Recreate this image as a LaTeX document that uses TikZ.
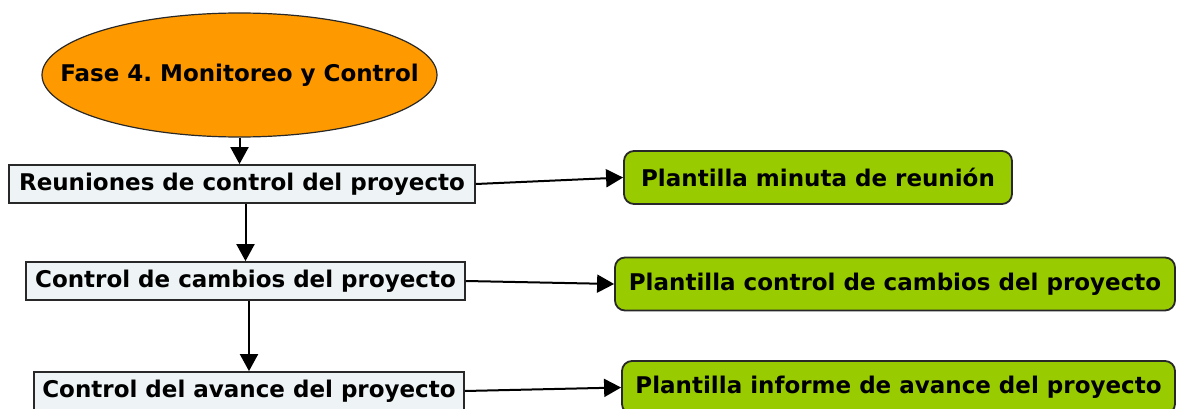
\documentclass[tikz,border=0pt]{standalone}
\usepackage{fontspec}
\setmainfont{DejaVu Sans}
\usetikzlibrary{shapes.geometric,arrows.meta}
\definecolor{phaseorange}{RGB}{255,153,0}
\definecolor{tplgreen}{RGB}{153,204,0}
\definecolor{taskfill}{RGB}{238,244,246}
\definecolor{edgegray}{RGB}{40,40,40}
\frenchspacing
\tikzset{
  labelfont/.style={font=\fontsize{23}{26}\selectfont\bfseries},
  phase/.style={ellipse, draw=edgegray, line width=1.2pt, fill=phaseorange,
    minimum width=395pt, minimum height=124pt, inner xsep=-50pt, inner ysep=0pt, labelfont},
  task/.style={rectangle, draw=edgegray, line width=1.8pt, fill=taskfill,
    minimum height=38pt, inner sep=0pt, labelfont},
  template/.style={rectangle, rounded corners=10pt, draw=edgegray, line width=1.8pt,
    fill=tplgreen, minimum height=53pt, inner sep=0pt, labelfont},
  link/.style={line width=2pt, black, -{Triangle[length=17pt, width=18pt]}},
}
\begin{document}
\begin{tikzpicture}[x=1pt, y=-1pt]
  \useasboundingbox (0,0) rectangle (1178,409);
  \clip (0,0) rectangle (1178,409);

  \node[phase] (fase) at (239.5,75) {Fase 4. Monitoreo y Control};

  \node[task, minimum width=466pt] (reun) at (242,184) {Reuniones de control del proyecto};
  \node[task, minimum width=439pt] (camb) at (245.5,281) {Control de cambios del proyecto};
  \node[task, minimum width=430pt] (avan) at (249,391) {Control del avance del proyecto};

  \node[template, minimum width=388pt] (minuta) at (818,177.5) {Plantilla minuta de reunión};
  \node[template, minimum width=560pt] (pcamb) at (895,284) {Plantilla control de cambios del proyecto};
  \node[template, minimum width=553pt] (pavan) at (898.5,387.5) {Plantilla informe de avance del proyecto};

  \draw[link] (fase.south) -- (fase.south |- reun.north);
  \draw[link] (reun.south -| camb.north) -- (camb.north);
  \draw[link] (camb.south -| avan.north) -- (avan.north);

  \draw[link] (reun.east) -- (minuta.west);
  \draw[link] (camb.east) -- (pcamb.west);
  \draw[link] (avan.east) -- (pavan.west);
\end{tikzpicture}
\end{document}
